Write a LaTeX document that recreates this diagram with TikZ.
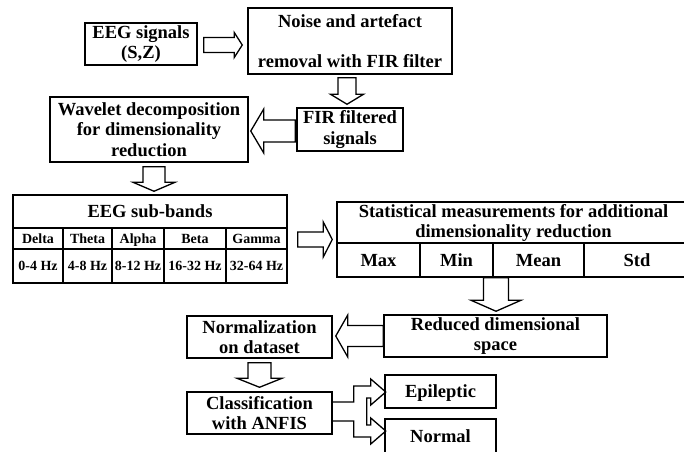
\documentclass[tikz,border=0pt]{standalone}
\usepackage{fontspec}
\setmainfont{Liberation Serif}
\usetikzlibrary{calc}
\newcommand{\bigtext}{\bfseries\fontsize{18.5}{20.5}\selectfont}
\newcommand{\celltext}{\bfseries\fontsize{14}{16}\selectfont}
% hollow block arrow: tail, tip, shaft half width, head half width, head length
\newcommand{\blockarrow}[5]{%
  \path let \p1=(#1), \p2=(#2) in
    \pgfextra{\pgfmathsetmacro\arrang{atan2(\y2-\y1,\x2-\x1)}%
      \pgfmathsetmacro\arrlen{veclen(\x2-\x1,\y2-\y1)}%
      \global\let\arrang\arrang\global\let\arrlen\arrlen};
  \begin{scope}[shift={(#1)},rotate=\arrang]
    \draw[blockline] (0,-#3) -- (\arrlen-#5,-#3) -- (\arrlen-#5,-#4) -- (\arrlen,0)
      -- (\arrlen-#5,#4) -- (\arrlen-#5,#3) -- (0,#3) -- cycle;
  \end{scope}}
\tikzset{
  box/.style={draw, line width=1.5pt, align=center, font=\bigtext, inner sep=0pt},
  oneline/.style={text height=12pt, text depth=0pt},
  cell/.style={font=\celltext, inner sep=0pt, text height=9.3pt, text depth=0pt},
  tabline/.style={line width=1.5pt},
  blockline/.style={line width=1.3pt, line join=miter},
}
\begin{document}
\begin{tikzpicture}[x=1pt,y=-1pt]
  \useasboundingbox (0,0) rectangle (684,451);
  %%%%% boxes %%%%%
  \node[box, minimum width=112pt, minimum height=42pt] (sig) at (141,44) {EEG signals\\(S,Z)};
  \node[box, minimum width=204pt, minimum height=66pt] (noise) at (350,41) {Noise and artefact\\[19.5pt]removal with FIR filter};
  \node[box, minimum width=106pt, minimum height=43pt] (fir) at (350,129.5) {FIR filtered\\signals};
  \node[box, minimum width=198pt, minimum height=65pt] (wavelet) at (149,129.5) {Wavelet decomposition\\for dimensionality\\reduction};
  \node[box, minimum width=223pt, minimum height=42pt] (reduced) at (495.5,336) {Reduced dimensional\\space};
  \node[box, minimum width=145pt, minimum height=42pt] (norm) at (259.5,337) {Normalization\\on dataset};
  \node[box, minimum width=145pt, minimum height=42pt] (class) at (259.5,413) {Classification\\with ANFIS};
  \node[box, oneline, minimum width=111pt, minimum height=33pt] (epi) at (440.5,391.5) {Epileptic};
  \node[box, oneline, minimum width=111pt, minimum height=34pt] (normal) at (440.5,436) {Normal};

  %%%%% sub-band table %%%%%
  \node[box, minimum width=274pt, minimum height=88pt] (sub) at (150,239) {};
  \node[font=\bigtext, oneline, inner sep=0pt] (subtitle) at (150,211.5) {EEG sub-bands};
  \draw[tabline] (13,228) -- (287,228);
  \draw[tabline] (13,249) -- (287,249);
  \foreach \nm/\rg/\xa/\xb [count=\i] in {Delta/0-4 Hz/13/63, Theta/4-8 Hz/63/112,
      Alpha/8-12 Hz/112/164, Beta/16-32 Hz/164/226, Gamma/32-64 Hz/226/287}{
    \node[cell] (band\i) at ({(\xa+\xb)/2},238.5) {\nm};
    \node[cell] (rng\i) at ({(\xa+\xb)/2},266) {\rg};
    \draw[tabline] (\xb,228) -- (\xb,283);
  }

  %%%%% statistics table %%%%%
  \node[box, minimum width=353pt, minimum height=75pt] (stats) at (513.5,239.5) {};
  \node[font=\bigtext, align=center, inner sep=0pt] (stattitle) at (513.5,223)
    {Statistical measurements for additional\\dimensionality reduction};
  \draw[tabline] (337,243) -- (690,243);
  \foreach \nm/\xa/\xb [count=\i] in {Max/337/420, Min/420/493, Mean/493/584, Std/584/690}{
    \node[font=\bigtext, oneline, inner sep=0pt] (feat\i) at ({(\xa+\xb)/2},260) {\nm};
    \draw[tabline] (\xb,243) -- (\xb,277);
  }

  %%%%% block arrows %%%%%
  \blockarrow{$(sig.east)+(6,1)$}{$(noise.west)+(-5,4)$}{7.5}{12.5}{8}
  \blockarrow{$(noise.south)+(-3,3)$}{$(fir.north)+(-3,-3)$}{9}{16.5}{10}
  \blockarrow{$(fir.west)+(-1,1.5)$}{$(wavelet.east)+(2,1.5)$}{11}{22}{13}
  \blockarrow{$(wavelet.south)+(5,4)$}{$(sub.north)+(4,-3)$}{11}{21}{9}
  \blockarrow{$(sub.east)+(10,0.5)$}{$(stats.west)+(-4,0)$}{7.5}{17.5}{9}
  \blockarrow{$(stats.south)+(-17.5,0)$}{$(reduced.north)+(0.5,-3)$}{12.5}{25}{11}
  \blockarrow{$(reduced.west)$}{$(norm.east)+(3,-1)$}{10.5}{21}{12}
  \blockarrow{$(norm.south)+(0,4)$}{$(class.north)+(0,-4)$}{11.5}{22.5}{9}

  % split arrow to the two classes
  \begin{scope}[shift={($(class.east)+(0,-1.5)$)}]
    \draw[blockline] (0,-9.5) -- (21,-9.5) -- (21,-25.5) -- (38,-25.5) -- (38,-32.5) -- (53,-19.5)
      -- (38,-6.5) -- (38,-13.5) -- (34,-13.5) -- (34,13.5) -- (38,13.5) -- (38,6.5) -- (53,19.5)
      -- (38,32.5) -- (38,25.5) -- (21,25.5) -- (21,9.5) -- (0,9.5);
  \end{scope}
\end{tikzpicture}
\end{document}
